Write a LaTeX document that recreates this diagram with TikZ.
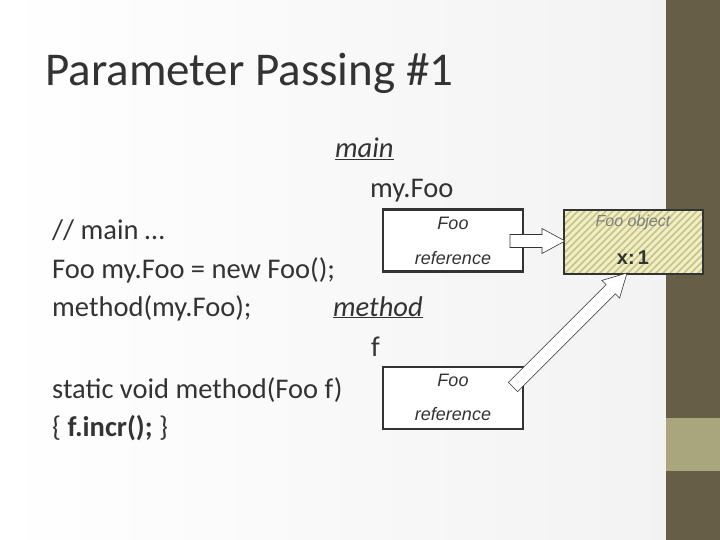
\documentclass[tikz,border=0pt]{standalone}
\usepackage{fontspec}
\setmainfont{Carlito}
\newfontfamily\arial{Liberation Sans}
\usetikzlibrary{calc}
\definecolor{olive}{HTML}{675E48}
\definecolor{lolive}{HTML}{A9A67E}
\definecolor{hatch}{HTML}{C4C48A}
\definecolor{txt}{HTML}{333333}
\newcommand\blockarr[2]{%
  \coordinate (hb) at ($(#2)!23pt!(#1)$);
  \draw[blockarrow] ($(#1)!6.5pt!90:(#2)$) -- ($(hb)!6.5pt!90:(#2)$) -- ($(hb)!12.5pt!90:(#2)$) -- (#2)
    -- ($(hb)!12.5pt!-90:(#2)$) -- ($(hb)!6.5pt!-90:(#2)$) -- ($(#1)!6.5pt!-90:(#2)$) -- cycle;}
\begin{document}
\begin{tikzpicture}[x=1pt,y=-1pt,
  code/.style={anchor=base west,inner sep=0,font=\fontsize{28.5}{32}\selectfont,text=txt},
  refbox/.style={draw=txt,line width=2.5pt,fill=white,minimum width=140pt,minimum height=62pt,inner sep=0},
  boxtxt/.style={font=\arial\itshape\fontsize{18}{20}\selectfont,text=txt,inner sep=0},
  blockarrow/.style={draw=txt,fill=white,line width=0.6pt,line join=miter}]
\useasboundingbox (0,0) rectangle (720,540);
\shade[left color=white,right color=white!90!gray] (0,0) rectangle (666,540);
\fill[olive] (666,0) rectangle (720,540);
\fill[lolive] (666,418) rectangle (720,471);
\node[anchor=base west,inner sep=0,font=\fontsize{47}{50}\selectfont,text=txt] (title) at (45,86) {Parameter Passing \#1};
\node[code,font=\itshape\fontsize{28.5}{32}\selectfont] (main) at (335,158) {\underline{main}};
\node[code] (myfoo) at (370,198) {my.Foo};
\node[code] (c1) at (52,240) {// main …};
\node[code] (c2) at (52,278) {Foo my.Foo = new Foo();};
\node[code] (c3) at (52,316) {method(my.Foo);};
\node[code,font=\itshape\fontsize{28.5}{32}\selectfont] (meth) at (333,316) {\underline{method}};
\node[code] (f) at (371,356) {f};
\node[code] (c4) at (52,398) {static void method(Foo f)};
\node[code] (c5) at (52,436) {\{ \textbf{f.incr();} \}};
\node[refbox] (r1) at (453,240.5) {};
\node[boxtxt] at (453,223) {Foo};
\node[boxtxt] at (453,258) {reference};
\node[refbox] (r2) at (453,398) {};
\node[boxtxt] at (453,380) {Foo};
\node[boxtxt] at (453,414) {reference};
\node[fill=white!80!yellow!90!olive,minimum width=139pt,minimum height=64pt,inner sep=0] (obj) at (633.5,242) {};
\begin{scope}
\clip (obj.south west) rectangle (obj.north east);
\foreach \i in {0,7,...,220} \draw[hatch,line width=1.5pt] (564+\i-70,274) -- (564+\i,204);
\end{scope}
\draw[txt,line width=2.5pt] (obj.south west) rectangle (obj.north east);
\node[font=\arial\itshape\fontsize{16}{18}\selectfont,text=gray,inner sep=0] at (633,222) {Foo object};
\node[font=\arial\bfseries\fontsize{20}{22}\selectfont,text=txt,inner sep=0] at (633,258) {x:\,1};
\coordinate (a1s) at (510,241);
\coordinate (a1e) at (565,241);
\blockarr{a1s}{a1e}
\coordinate (a2s) at (513,387);
\coordinate (a2e) at (627,273);
\blockarr{a2s}{a2e}
\end{tikzpicture}
\end{document}
